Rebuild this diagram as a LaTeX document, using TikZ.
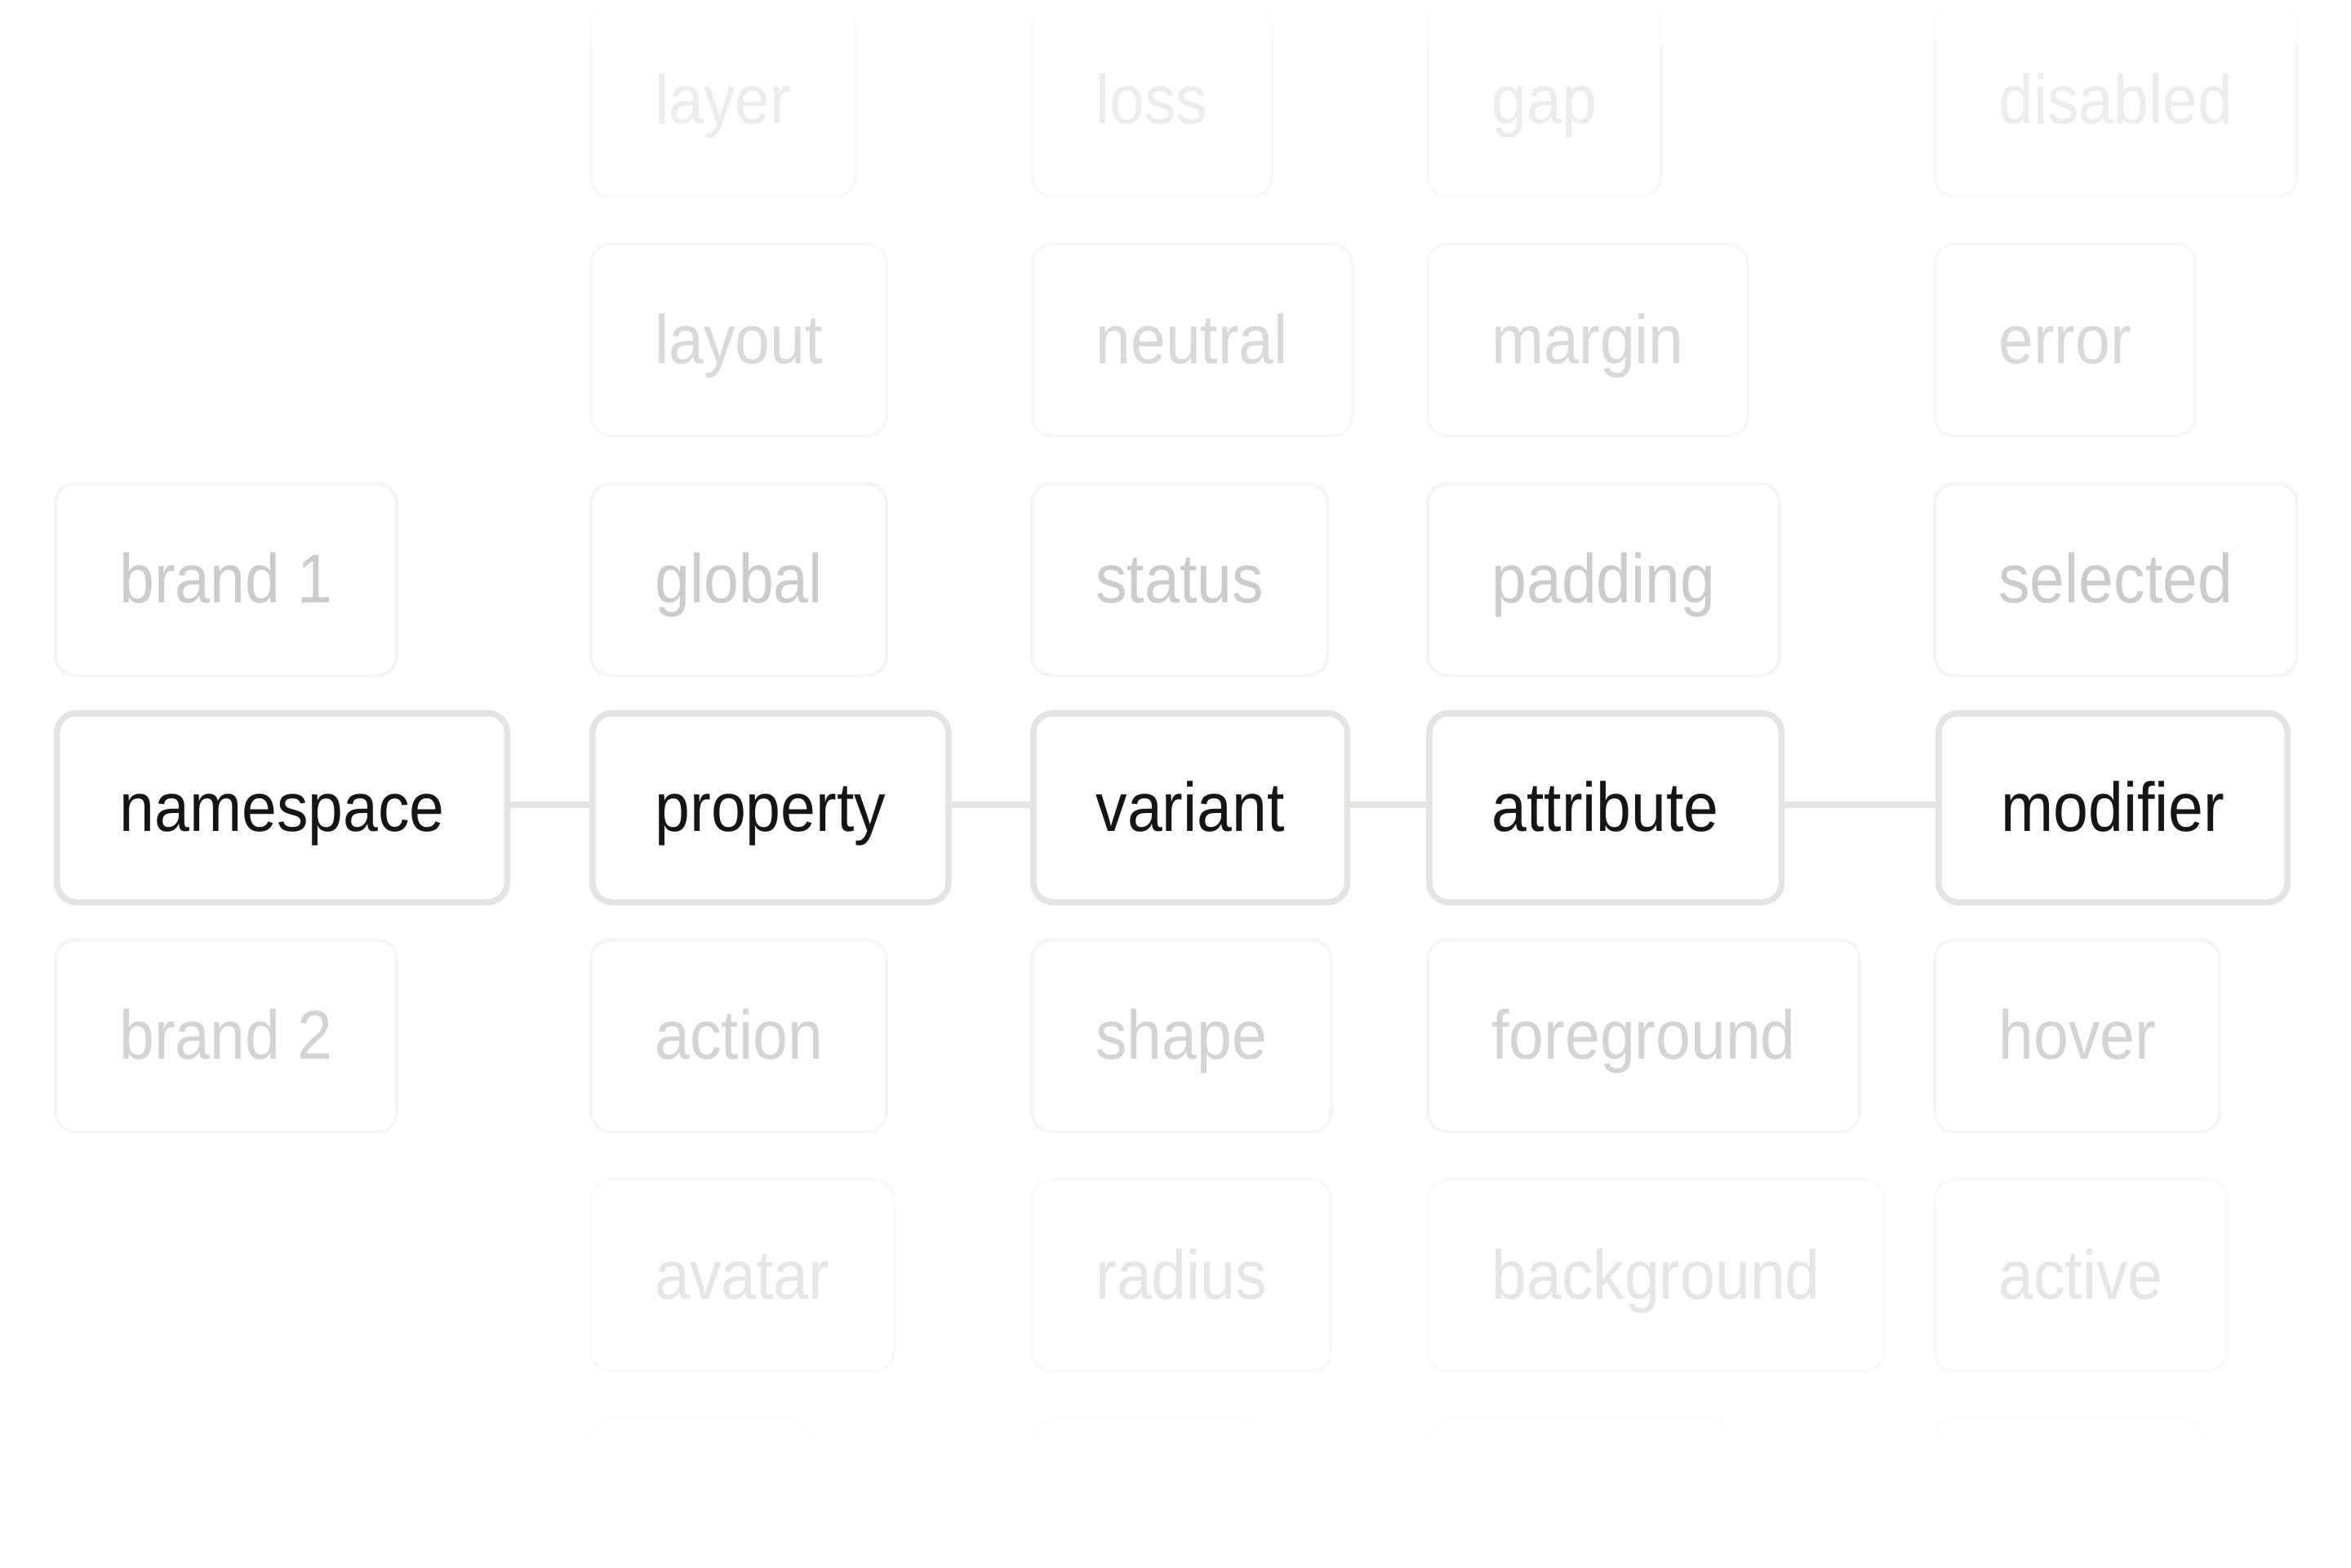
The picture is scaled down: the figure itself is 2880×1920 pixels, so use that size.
\documentclass[tikz,border=0pt]{standalone}
\usepackage{fontspec}
\setmainfont{Liberation Sans}
\usepackage{graphicx}
\definecolor{mainline}{HTML}{E5E4E0}
\definecolor{maintext}{HTML}{151515}
\definecolor{tA}{HTML}{EDEDED}\definecolor{bA}{HTML}{F8F8F8}
\definecolor{tB}{HTML}{D9D9D9}\definecolor{bB}{HTML}{F7F7F6}
\definecolor{tC}{HTML}{CBCBCB}\definecolor{bC}{HTML}{F4F4F3}
\definecolor{tD}{HTML}{D3D3D3}\definecolor{bD}{HTML}{F5F5F4}
\definecolor{tE}{HTML}{E6E6E6}\definecolor{bE}{HTML}{F9F9F9}
\definecolor{bF}{HTML}{FAFAFA}
\newcommand\lbl[1]{\scalebox{1}[1.1]{#1}}
\begin{document}
\begin{tikzpicture}[x=0.25pt, y=-0.25pt,
  box/.style={rectangle, rounded corners=6pt, anchor=west, inner ysep=0pt,
    text height=14.25pt, text depth=0pt, font=\fontsize{19.25pt}{23pt}\selectfont},
  mainbox/.style={box, draw=mainline, line width=1.875pt, text=maintext,
    inner xsep=19.2pt, minimum height=57.875pt},
  fadedbox/.style={box, line width=1pt, inner xsep=19.6pt, minimum height=58.75pt},
  rowA/.style={fadedbox, draw=bA, text=tA},
  rowB/.style={fadedbox, draw=bB, text=tB},
  rowC/.style={fadedbox, draw=bC, text=tC},
  rowD/.style={fadedbox, draw=bD, text=tD},
  rowE/.style={fadedbox, draw=bE, text=tE},
  rowF/.style={fadedbox, draw=bF},
  link/.style={draw=mainline, line width=1.875pt}
]
\fill[white] (0,0) rectangle (2880,1920);
\useasboundingbox (0,0) rectangle (2880,1920);

% row A (top, faded)
\node[rowA] (layer)    at (722,123)  {\lbl{layer}};
\node[rowA] (loss)     at (1262,123) {\lbl{loss}};
\node[rowA] (gap)      at (1747,123) {\lbl{gap}};
\node[rowA] (disabled) at (2368,123) {\lbl{disabled}};

% row B
\node[rowB] (layout)  at (722,416.5)  {\lbl{layout}};
\node[rowB] (neutral) at (1262,416.5) {\lbl{neutral}};
\node[rowB] (margin)  at (1747,416.5) {\lbl{margin}};
\node[rowB] (error)   at (2368,416.5) {\lbl{error}};

% row C
\node[rowC] (brand1)   at (66,710)   {\lbl{brand 1}};
\node[rowC] (global)   at (722,710)  {\lbl{global}};
\node[rowC] (status)   at (1262,710) {\lbl{status}};
\node[rowC] (padding)  at (1747,710) {\lbl{padding}};
\node[rowC] (selected) at (2368,710) {\lbl{selected}};

% main row
\node[mainbox] (namespace) at (66,989.5)   {\lbl{namespace}};
\node[mainbox] (property)  at (722,989.5)  {\lbl{property}};
\node[mainbox] (variant)   at (1262,989.5) {\lbl{variant}};
\node[mainbox] (attribute) at (1747,989.5) {\lbl{attribute}};
\node[mainbox] (modifier)  at (2371,989.5) {\lbl{modifier}};

% row D
\node[rowD] (brand2)     at (66,1269)   {\lbl{brand 2}};
\node[rowD] (action)     at (722,1269)  {\lbl{action}};
\node[rowD] (shape)      at (1262,1269) {\lbl{shape}};
\node[rowD] (foreground) at (1747,1269) {\lbl{foreground}};
\node[rowD] (hover)      at (2368,1269) {\lbl{hover}};

% row E
\node[rowE] (avatar)     at (722,1562.5)  {\lbl{avatar}};
\node[rowE] (radius)     at (1262,1562.5) {\lbl{radius}};
\node[rowE] (background) at (1747,1562.5) {\lbl{background}};
\node[rowE] (active)     at (2368,1562.5) {\lbl{active}};

% row F (almost invisible)
\node[rowF, minimum width=67.75pt] (r6a) at (722,1856)  {};
\node[rowF, minimum width=70.25pt] (r6b) at (1262,1856) {};
\node[rowF, minimum width=92.75pt] (r6c) at (1747,1856) {};
\node[rowF, minimum width=82.75pt] (r6d) at (2368,1856) {};

% connectors
\draw[link] ([yshift=0.875pt]namespace.east) -- ([yshift=0.875pt]property.west);
\draw[link] ([yshift=0.875pt]property.east) -- ([yshift=0.875pt]variant.west);
\draw[link] ([yshift=0.875pt]variant.east) -- ([yshift=0.875pt]attribute.west);
\draw[link] ([yshift=0.875pt]attribute.east) -- ([yshift=0.875pt]modifier.west);

% edge fades (stepped white veils)
\foreach \i in {0,...,11}{
  \pgfmathsetmacro\op{1-\i/12}
  \fill[white, opacity=\op] (0,{\i*5}) rectangle (2880,{\i*5+5});
}
\foreach \i in {0,...,9}{
  \pgfmathsetmacro\op{(\i+1)/10}
  \fill[white, opacity=\op] (0,{1710+\i*8}) rectangle (2880,{1718+\i*8});
}
\fill[white] (0,1790) rectangle (2880,1920);
\end{tikzpicture}
\end{document}
